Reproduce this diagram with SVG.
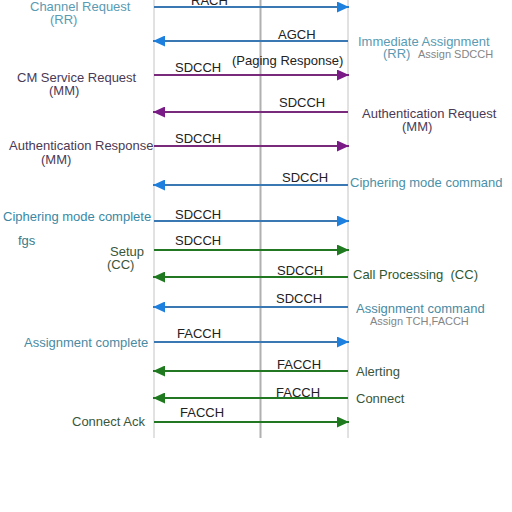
<svg xmlns="http://www.w3.org/2000/svg" width="512" height="512" viewBox="0 0 512 512">
<defs>
<marker id="ab" markerUnits="userSpaceOnUse" markerWidth="13" markerHeight="11" refX="12" refY="5.5" orient="auto"><path d="M0,0 L12,5.5 L0,11 Z" fill="#1e80de"/></marker>
<marker id="ap" markerUnits="userSpaceOnUse" markerWidth="13" markerHeight="11" refX="12" refY="5.5" orient="auto"><path d="M0,0 L12,5.5 L0,11 Z" fill="#7a1a86"/></marker>
<marker id="ag" markerUnits="userSpaceOnUse" markerWidth="13" markerHeight="11" refX="12" refY="5.5" orient="auto"><path d="M0,0 L12,5.5 L0,11 Z" fill="#1f7a1f"/></marker>
</defs>
<style>
text{font-family:"Liberation Sans",Arial,sans-serif;font-size:13px}
.ch{fill:#222}
.sm{font-size:11px;fill:#858585}
.tb{fill:#5a9ab2}
.tp{fill:#4a3a55}
.tg{fill:#3a563a}
.lb{stroke:#3a78b4;stroke-width:2;fill:none}
.lp{stroke:#7a2a7a;stroke-width:2;fill:none}
.lg{stroke:#227722;stroke-width:2;fill:none}
.life{stroke:#c4c4c4;stroke-width:1;fill:none}
</style>
<rect width="512" height="512" fill="#fff"/>
<g id="ms"><line class="life" x1="154" y1="0" x2="154" y2="438"/></g>
<g id="bts"><line x1="260.5" y1="0" x2="260.5" y2="438" stroke="#b0b0b0" stroke-width="2"/></g>
<g id="bsc"><line class="life" x1="348" y1="0" x2="348" y2="438"/></g>
<g id="connectors">
<line class="lb" x1="154" y1="7" x2="349" y2="7" marker-end="url(#ab)"/>
<line class="lb" x1="348" y1="41" x2="153" y2="41" marker-end="url(#ab)"/>
<line class="lp" x1="154" y1="75" x2="349" y2="75" marker-end="url(#ap)"/>
<line class="lp" x1="348" y1="112" x2="153" y2="112" marker-end="url(#ap)"/>
<line class="lp" x1="154" y1="146" x2="349" y2="146" marker-end="url(#ap)"/>
<line class="lb" x1="348" y1="185" x2="153" y2="185" marker-end="url(#ab)"/>
<line class="lb" x1="154" y1="221" x2="349" y2="221" marker-end="url(#ab)"/>
<line class="lg" x1="154" y1="250" x2="349" y2="250" marker-end="url(#ag)"/>
<line class="lg" x1="348" y1="277" x2="153" y2="277" marker-end="url(#ag)"/>
<line class="lb" x1="348" y1="307" x2="153" y2="307" marker-end="url(#ab)"/>
<line class="lb" x1="154" y1="342" x2="349" y2="342" marker-end="url(#ab)"/>
<line class="lg" x1="348" y1="371" x2="153" y2="371" marker-end="url(#ag)"/>
<line class="lg" x1="348" y1="398" x2="153" y2="398" marker-end="url(#ag)"/>
<line class="lg" x1="154" y1="422" x2="349" y2="422" marker-end="url(#ag)"/>
</g>
<g id="labels">
<text class="ch" x="191" y="5">RACH</text>
<text class="tb" x="30" y="11">Channel Request</text>
<text class="tb" x="50" y="24">(RR)</text>
<text class="ch" x="278" y="39">AGCH</text>
<text class="tb" x="358" y="46">Immediate Assignment</text>
<text class="tb" x="383" y="58">(RR)</text>
<text class="sm" x="418" y="58">Assign SDCCH</text>
<text class="ch" x="175" y="72">SDCCH</text>
<text class="ch" x="232" y="65">(Paging Response)</text>
<text class="tp" x="17" y="82">CM Service Request</text>
<text class="tp" x="49" y="95">(MM)</text>
<text class="ch" x="279" y="107">SDCCH</text>
<text class="tp" x="362" y="118">Authentication Request</text>
<text class="tp" x="402" y="131">(MM)</text>
<text class="ch" x="175" y="143">SDCCH</text>
<text class="tp" x="9" y="150">Authentication Response</text>
<text class="tp" x="41" y="164">(MM)</text>
<text class="ch" x="282" y="182">SDCCH</text>
<text fill="#4a90a8" x="350" y="187">Ciphering mode command</text>
<text class="ch" x="175" y="219">SDCCH</text>
<text fill="#3a88a5" x="3" y="221">Ciphering mode complete</text>
<text fill="#3a7a8a" x="18" y="245">fgs</text>
<text class="ch" x="175" y="245">SDCCH</text>
<text class="tg" x="110" y="256">Setup</text>
<text class="tg" x="107" y="269">(CC)</text>
<text class="ch" x="277" y="275">SDCCH</text>
<text fill="#2e582e" x="353" y="279" xml:space="preserve" style="white-space:pre">Call Processing  (CC)</text>
<text class="ch" x="276" y="303">SDCCH</text>
<text fill="#4a8aa2" x="356" y="313">Assignment command</text>
<text class="sm" x="370" y="325" fill="#777">Assign TCH,FACCH</text>
<text class="ch" x="177" y="338">FACCH</text>
<text fill="#4a8aa2" x="24" y="347">Assignment complete</text>
<text class="ch" x="277" y="369">FACCH</text>
<text class="tg" x="356" y="376">Alerting</text>
<text class="ch" x="276" y="397">FACCH</text>
<text class="tg" x="356" y="403">Connect</text>
<text class="ch" x="180" y="417">FACCH</text>
<text class="tg" x="72" y="426">Connect Ack</text>
</g>
</svg>
